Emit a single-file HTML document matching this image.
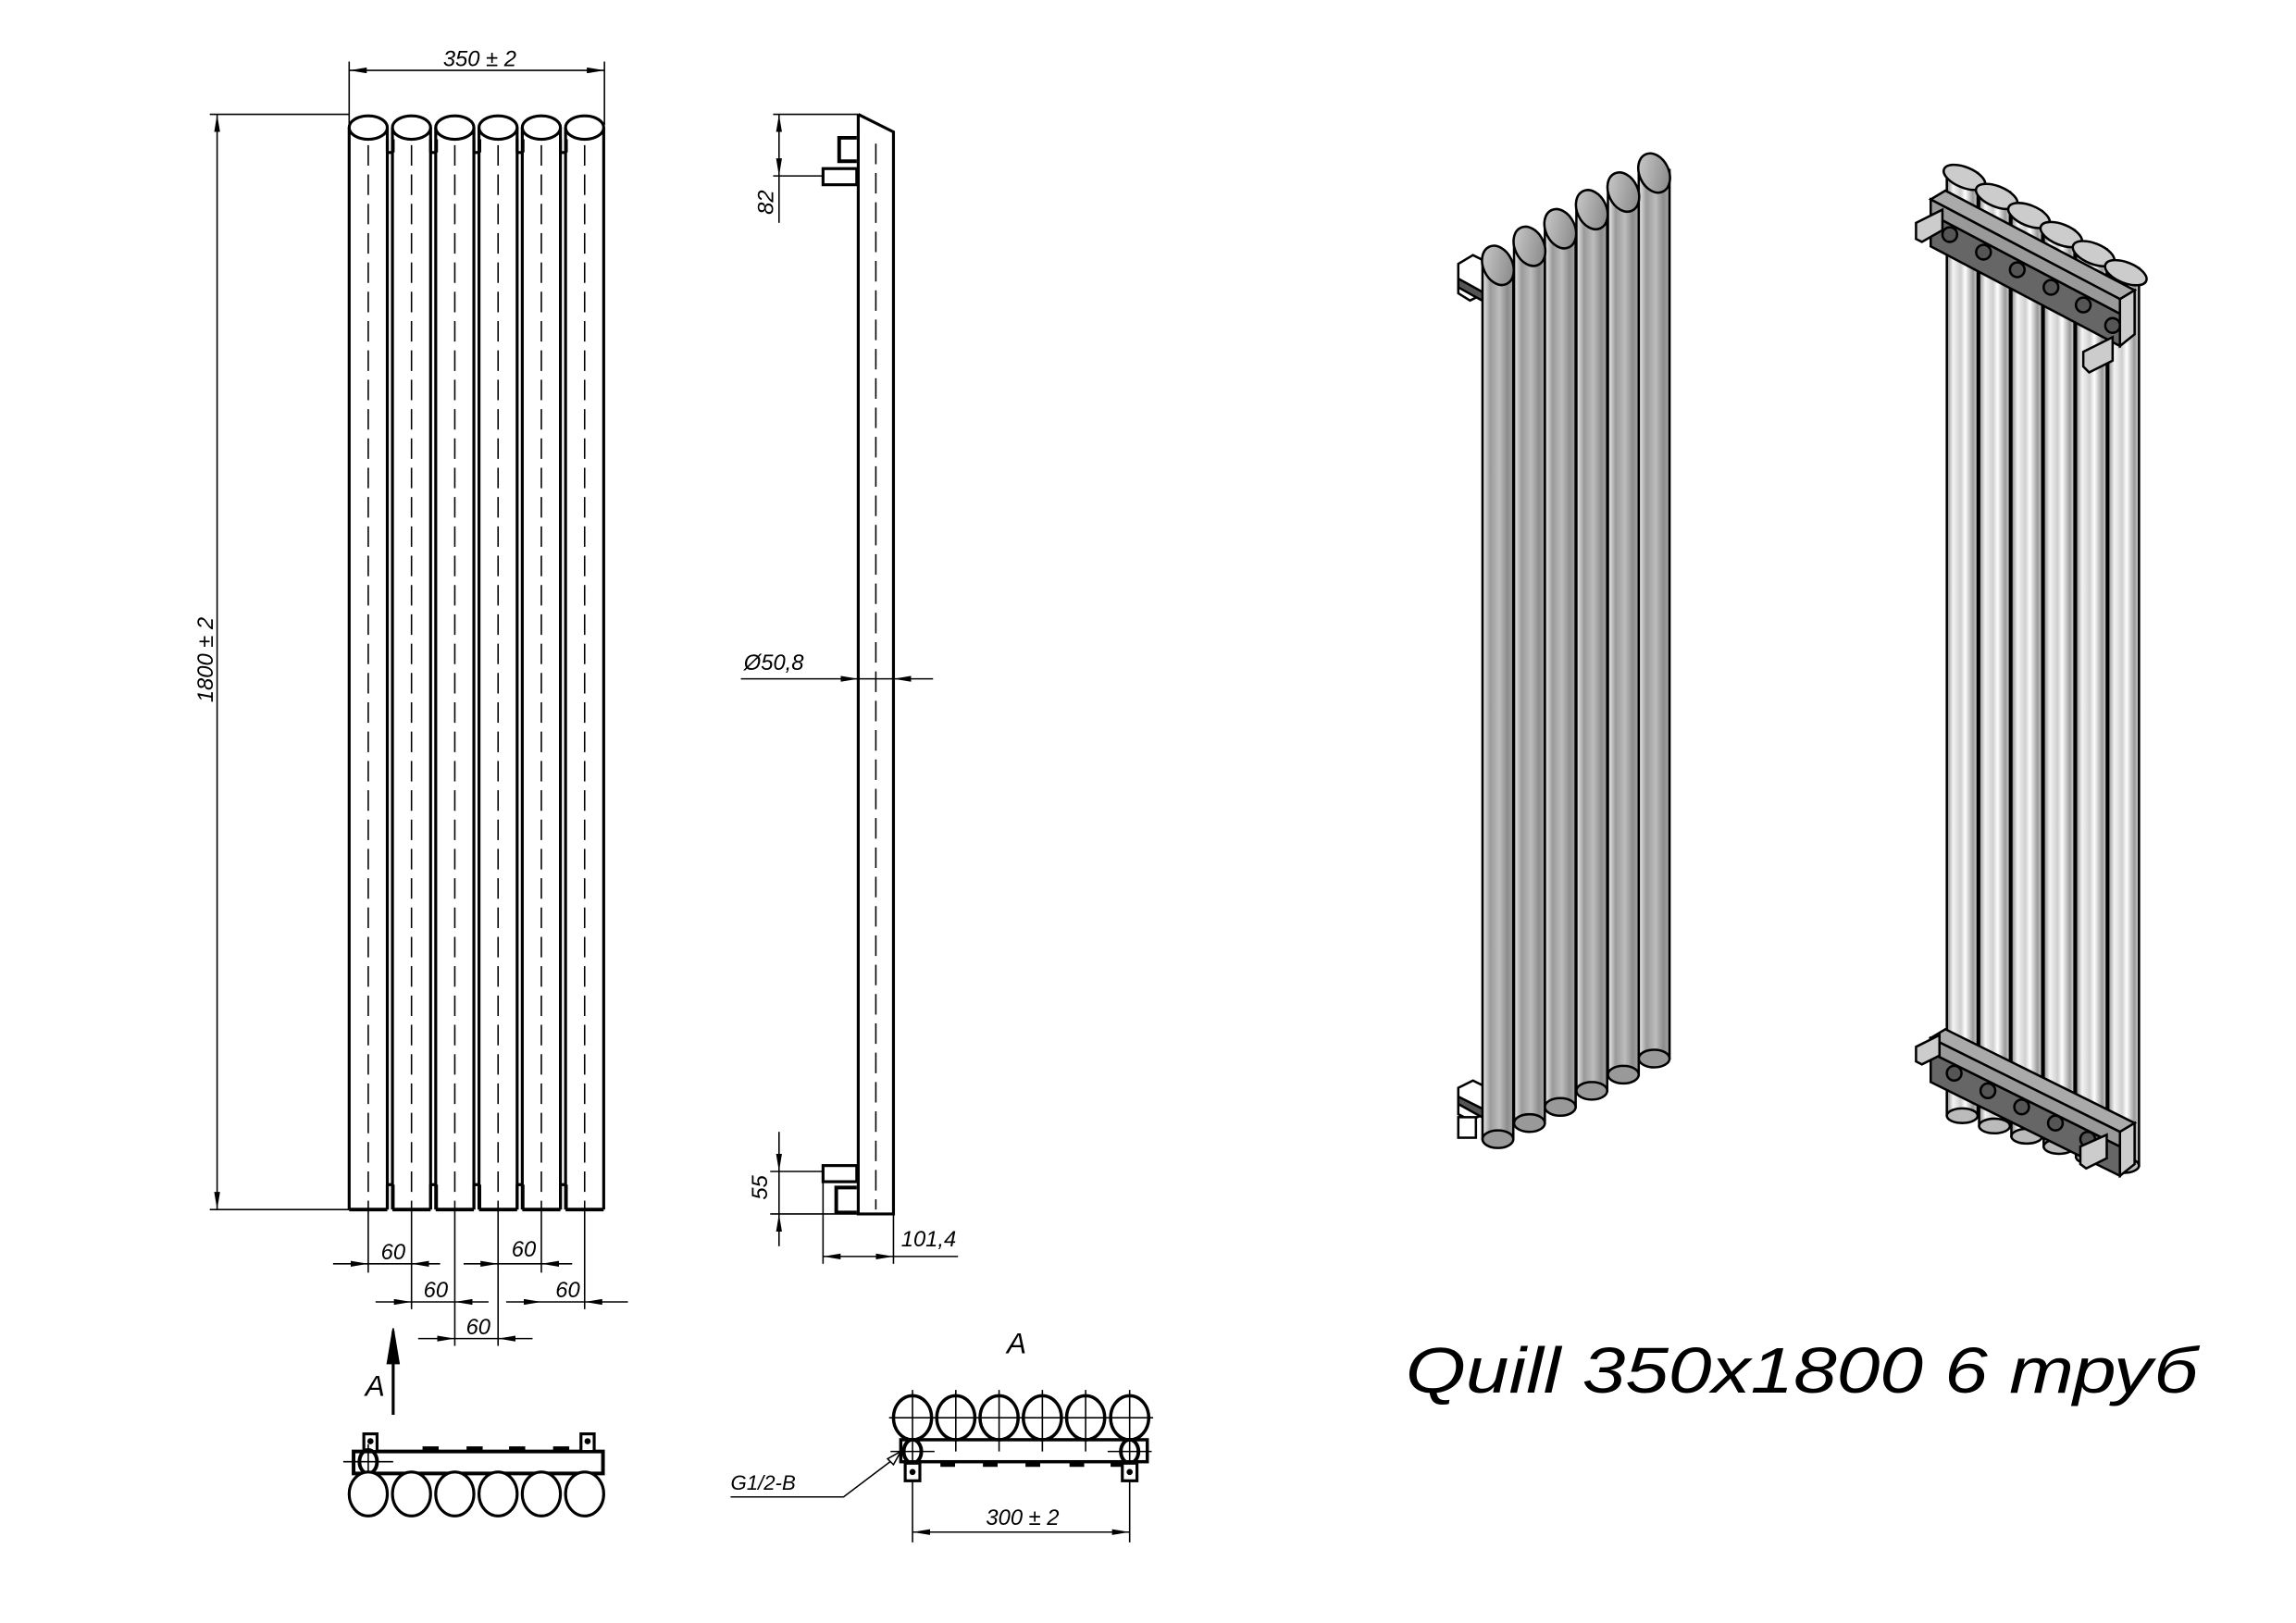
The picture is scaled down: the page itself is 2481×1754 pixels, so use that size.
<!DOCTYPE html>
<html><head><meta charset="utf-8"><style>
html,body{margin:0;padding:0;background:#fff;}
svg{display:block;}
text{font-family:"Liberation Sans","DejaVu Sans",sans-serif;font-style:italic;fill:#000;}
</style></head><body>
<svg width="2481" height="1754" viewBox="0 0 1565 1107" preserveAspectRatio="none" xmlns="http://www.w3.org/2000/svg">
<defs>
<marker id="ar" viewBox="0 0 12 4" refX="12" refY="2" markerWidth="12" markerHeight="4" markerUnits="userSpaceOnUse" orient="auto-start-reverse"><path d="M0,0 L12,2 L0,4z" fill="#000"/></marker>
<linearGradient id="gl" x1="0" x2="1" y1="0" y2="0">
<stop offset="0" stop-color="#eee"/><stop offset="0.25" stop-color="#9a9a9a"/><stop offset="0.55" stop-color="#bdbdbd"/><stop offset="0.8" stop-color="#8d8d8d"/><stop offset="1" stop-color="#a5a5a5"/></linearGradient>
<linearGradient id="gr" x1="0" x2="1" y1="0" y2="0">
<stop offset="0" stop-color="#888"/><stop offset="0.2" stop-color="#f4f4f4"/><stop offset="0.45" stop-color="#cfcfcf"/><stop offset="0.6" stop-color="#fff"/><stop offset="0.85" stop-color="#999"/><stop offset="1" stop-color="#d8d8d8"/></linearGradient>
<linearGradient id="ge" x1="0" x2="1" y1="0" y2="1"><stop offset="0" stop-color="#d0d0d0"/><stop offset="1" stop-color="#808080"/></linearGradient>
<g id="ft" fill="none" stroke="#000">
<line x1="0" y1="87" x2="0" y2="825" stroke-width="2"/>
<line x1="26" y1="87" x2="26" y2="825" stroke-width="2"/>
<line x1="13" y1="79" x2="13" y2="825" stroke-width="1" stroke-dasharray="14,6"/>
<ellipse cx="13" cy="87" rx="13" ry="8" fill="#fff" stroke-width="2"/>
<line x1="0" y1="825" x2="26" y2="825" stroke-width="2.5"/>
</g>
</defs>

<!-- FRONT VIEW -->
<g>
<use href="#ft" x="238"/><use href="#ft" x="267.5"/><use href="#ft" x="297"/><use href="#ft" x="326.5"/><use href="#ft" x="356"/><use href="#ft" x="385.5"/>
<g stroke="#000" stroke-width="2">
<path d="M264,95V104M268,95V104M293.5,95V104M297.5,95V104M323,95V104M327,95V104M352.5,95V104M356.5,95V104M382,95V104M386,95V104"/>
<path d="M264,104H268M293.5,104H297.5M323,104H327M352.5,104H356.5M382,104H386"/>
<path d="M264,808V825M268,808V825M293.5,808V825M297.5,808V825M323,808V825M327,808V825M352.5,808V825M356.5,808V825M382,808V825M386,808V825"/>
<path d="M264,808H268M293.5,808H297.5M323,808H327M352.5,808H356.5M382,808H386"/>
</g>
<g stroke="#000" stroke-width="1" fill="none">
<line x1="238" y1="42" x2="238" y2="85"/><line x1="412" y1="42" x2="412" y2="85"/>
<line x1="238" y1="48" x2="412" y2="48" marker-start="url(#ar)" marker-end="url(#ar)"/>
<line x1="143" y1="78" x2="238" y2="78"/><line x1="143" y1="825" x2="238" y2="825"/>
<line x1="148" y1="78" x2="148" y2="825" marker-start="url(#ar)" marker-end="url(#ar)"/>
<path d="M251,825V868M280.5,825V893M310,825V918M339.5,825V918M369,825V868M398.5,825V893"/>
<line x1="227" y1="862" x2="251" y2="862" marker-end="url(#ar)"/><line x1="300" y1="862" x2="280.5" y2="862" marker-end="url(#ar)"/><line x1="251" y1="862" x2="280.5" y2="862"/>
<line x1="316" y1="862" x2="339.5" y2="862" marker-end="url(#ar)"/><line x1="390" y1="862" x2="369" y2="862" marker-end="url(#ar)"/><line x1="339.5" y1="862" x2="369" y2="862"/>
<line x1="256" y1="888" x2="280.5" y2="888" marker-end="url(#ar)"/><line x1="333" y1="888" x2="310" y2="888" marker-end="url(#ar)"/><line x1="280.5" y1="888" x2="310" y2="888"/>
<line x1="345" y1="888" x2="369" y2="888" marker-end="url(#ar)"/><line x1="428" y1="888" x2="398.5" y2="888" marker-end="url(#ar)"/><line x1="369" y1="888" x2="398.5" y2="888"/>
<line x1="285" y1="913" x2="310" y2="913" marker-end="url(#ar)"/><line x1="363" y1="913" x2="339.5" y2="913" marker-end="url(#ar)"/><line x1="310" y1="913" x2="339.5" y2="913"/>
</g>
<text x="327" y="45" font-size="15" text-anchor="middle">350 ± 2</text>
<text transform="translate(145,450) rotate(-90)" font-size="15" text-anchor="middle">1800 ± 2</text>
<g font-size="15" text-anchor="middle">
<text x="268" y="859">60</text><text x="357" y="857">60</text>
<text x="297" y="885">60</text><text x="387" y="885">60</text>
<text x="326" y="910">60</text>
</g>
</g>

<!-- SIDE VIEW -->
<g stroke="#000" fill="none">
<path d="M585,78V828H609V90L585,78" stroke-width="2"/>
<line x1="597" y1="98" x2="597" y2="825" stroke-width="1" stroke-dasharray="14,6"/>
<path d="M584,94H572V110H584" stroke-width="2.5"/>
<rect x="561" y="115" width="23" height="11" stroke-width="2"/>
<rect x="561" y="795" width="23" height="11" stroke-width="2"/>
<path d="M584,810H570V827H584" stroke-width="2.5"/>
<g stroke-width="1">
<line x1="527" y1="78" x2="585" y2="78"/><line x1="527" y1="120" x2="561" y2="120"/>
<line x1="531" y1="78" x2="531" y2="120" marker-start="url(#ar)" marker-end="url(#ar)"/>
<line x1="531" y1="120" x2="531" y2="152"/>
<line x1="525" y1="799" x2="561" y2="799"/><line x1="525" y1="828" x2="585" y2="828"/>
<line x1="531" y1="772" x2="531" y2="799" marker-end="url(#ar)"/>
<line x1="531" y1="850" x2="531" y2="828" marker-end="url(#ar)"/>
<line x1="531" y1="799" x2="531" y2="828"/>
<line x1="561" y1="806" x2="561" y2="862"/><line x1="609" y1="828" x2="609" y2="862"/>
<line x1="561" y1="857" x2="609" y2="857" marker-start="url(#ar)" marker-end="url(#ar)"/>
<line x1="609" y1="857" x2="653" y2="857"/>
<line x1="505" y1="463" x2="585" y2="463" marker-end="url(#ar)"/>
<line x1="636" y1="463" x2="609" y2="463" marker-end="url(#ar)"/>
<line x1="585" y1="463" x2="609" y2="463"/>
</g>
</g>
<text transform="translate(527,138) rotate(-90)" font-size="15" text-anchor="middle">82</text>
<text transform="translate(523,810) rotate(-90)" font-size="15" text-anchor="middle">55</text>
<text x="633" y="850" font-size="15" text-anchor="middle">101,4</text>
<text x="507" y="457" font-size="15">Ø50,8</text>

<!-- VIEW A left -->
<g stroke="#000" fill="none">
<line x1="268" y1="965" x2="268" y2="908" stroke-width="2"/>
<path d="M268,906 L264,930 L272,930Z" fill="#000"/>
<rect x="241" y="990" width="170" height="15" stroke-width="2.5"/>
<rect x="248" y="978" width="9" height="12" stroke-width="2" fill="#fff"/><rect x="396" y="978" width="9" height="12" stroke-width="2" fill="#fff"/>
<circle cx="252.5" cy="983" r="1.6" fill="#000"/><circle cx="400.5" cy="983" r="1.6" fill="#000"/>
<path d="M288,988H299M318,988H329M347,988H358M377,988H388" stroke-width="3"/>
<ellipse cx="251" cy="997" rx="6" ry="8" stroke-width="2.5"/>
<line x1="234" y1="997" x2="268" y2="997" stroke-width="1"/>
<line x1="251" y1="985" x2="251" y2="1030" stroke-width="1"/>
<g stroke-width="2" fill="#fff">
<ellipse cx="251" cy="1019" rx="13" ry="15"/><ellipse cx="280.5" cy="1019" rx="13" ry="15"/><ellipse cx="310" cy="1019" rx="13" ry="15"/><ellipse cx="339.5" cy="1019" rx="13" ry="15"/><ellipse cx="369" cy="1019" rx="13" ry="15"/><ellipse cx="398.5" cy="1019" rx="13" ry="15"/>
</g>
</g>
<text x="249" y="952" font-size="20">A</text>

<!-- VIEW A right -->
<g stroke="#000" fill="none">
<g stroke-width="1"><line x1="606" y1="967" x2="786" y2="967"/>
<path d="M622,948V1000M651.5,948V990M681,948V990M710.5,948V990M740,948V990M770,948V1000"/></g>
<g stroke-width="2.2"><ellipse cx="622" cy="967" rx="13" ry="15"/><ellipse cx="651.5" cy="967" rx="13" ry="15"/><ellipse cx="681" cy="967" rx="13" ry="15"/><ellipse cx="710.5" cy="967" rx="13" ry="15"/><ellipse cx="740" cy="967" rx="13" ry="15"/><ellipse cx="770" cy="967" rx="13" ry="15"/></g>
<rect x="614" y="982" width="168" height="15" stroke-width="2.2" fill="none"/>
<path d="M641,999H651M670,999H680M699,999H709M729,999H739M757,999H766" stroke-width="3"/>
<ellipse cx="622" cy="990" rx="6" ry="8" stroke-width="2.5"/><ellipse cx="770" cy="990" rx="6" ry="8" stroke-width="2.5"/>
<g stroke-width="1"><path d="M607,990H637M755,990H785"/></g>
<rect x="617" y="998" width="10" height="12" stroke-width="2" fill="#fff"/><rect x="765" y="998" width="10" height="12" stroke-width="2" fill="#fff"/>
<circle cx="622" cy="1004" r="1.6" fill="#000"/><circle cx="770" cy="1004" r="1.6" fill="#000"/>
<g stroke-width="1">
<line x1="622" y1="1010" x2="622" y2="1052"/><line x1="770" y1="1010" x2="770" y2="1052"/>
<line x1="622" y1="1045" x2="770" y2="1045" marker-start="url(#ar)" marker-end="url(#ar)"/>
<path d="M498,1021H575L612,993"/>
</g>
<path d="M614,990 L605,995 L609,999Z" fill="#fff" stroke-width="1"/>
</g>
<text x="693" y="923" font-size="20" text-anchor="middle">A</text>
<text x="697" y="1040" font-size="15" text-anchor="middle">300 ± 2</text>
<text x="498" y="1016" font-size="14">G1/2-B</text>

<!-- TITLE -->
<text x="958" y="950" font-size="44" textLength="540" lengthAdjust="spacingAndGlyphs">Quill 350x1800  6 труб</text>

<!-- ISO LEFT -->
<g stroke="#000" stroke-width="1.6">
<path d="M994,180 L1004,174 L1012,178 L1012,200 L1002,205 L994,200Z" fill="#fff"/>
<path d="M994,190 L1012,200 L1012,206 L994,196Z" fill="#555"/>
<path d="M994,742 L1004,737 L1012,741 L1012,760 L1002,764 L994,760Z" fill="#fff"/>
<path d="M994,748 L1012,757 L1012,763 L994,753Z" fill="#555"/>
<rect x="994" y="762" width="12" height="14" fill="#fff"/>
<g>
<rect x="1117" y="116" width="21" height="606" fill="url(#gl)"/><ellipse cx="1127.5" cy="722" rx="10.5" ry="6" fill="#999"/>
<ellipse cx="1127.5" cy="118" rx="10" ry="14" transform="rotate(-25 1127.5 118)" fill="url(#ge)"/>
<rect x="1096" y="129" width="21" height="604" fill="url(#gl)"/><ellipse cx="1106.5" cy="733" rx="10.5" ry="6" fill="#999"/>
<ellipse cx="1106.5" cy="131" rx="10" ry="14" transform="rotate(-25 1106.5 131)" fill="url(#ge)"/>
<rect x="1074.5" y="141" width="21" height="603" fill="url(#gl)"/><ellipse cx="1085" cy="744" rx="10.5" ry="6" fill="#999"/>
<ellipse cx="1085" cy="143" rx="10" ry="14" transform="rotate(-25 1085 143)" fill="url(#ge)"/>
<rect x="1053" y="154" width="21" height="601" fill="url(#gl)"/><ellipse cx="1063.5" cy="755" rx="10.5" ry="6" fill="#999"/>
<ellipse cx="1063.5" cy="156" rx="10" ry="14" transform="rotate(-25 1063.5 156)" fill="url(#ge)"/>
<rect x="1032" y="166" width="21" height="600" fill="url(#gl)"/><ellipse cx="1042.5" cy="766" rx="10.5" ry="6" fill="#999"/>
<ellipse cx="1042.5" cy="168" rx="10" ry="14" transform="rotate(-25 1042.5 168)" fill="url(#ge)"/>
<rect x="1010.5" y="179" width="21" height="598" fill="url(#gl)"/><ellipse cx="1021" cy="777" rx="10.5" ry="6" fill="#999"/>
<ellipse cx="1021" cy="181" rx="10" ry="14" transform="rotate(-25 1021 181)" fill="url(#ge)"/>
</g>
</g>

<!-- ISO RIGHT -->
<g stroke="#000" stroke-width="1.6">
<rect x="1327" y="118" width="21" height="643" fill="url(#gr)"/><ellipse cx="1337.5" cy="761" rx="10.5" ry="5" fill="#bbb"/>
<ellipse cx="1339" cy="121" rx="15" ry="7" transform="rotate(22 1339 121)" fill="#ccc"/>
<rect x="1349" y="131" width="21" height="637" fill="url(#gr)"/><ellipse cx="1359.5" cy="768" rx="10.5" ry="5" fill="#bbb"/>
<ellipse cx="1361" cy="134" rx="15" ry="7" transform="rotate(22 1361 134)" fill="#ccc"/>
<rect x="1371" y="144" width="21" height="631" fill="url(#gr)"/><ellipse cx="1381.5" cy="775" rx="10.5" ry="5" fill="#bbb"/>
<ellipse cx="1383" cy="147" rx="15" ry="7" transform="rotate(22 1383 147)" fill="#ccc"/>
<rect x="1393" y="157" width="21" height="625" fill="url(#gr)"/><ellipse cx="1403.5" cy="782" rx="10.5" ry="5" fill="#bbb"/>
<ellipse cx="1405" cy="160" rx="15" ry="7" transform="rotate(22 1405 160)" fill="#ccc"/>
<rect x="1415" y="170" width="21" height="619" fill="url(#gr)"/><ellipse cx="1425.5" cy="789" rx="10.5" ry="5" fill="#bbb"/>
<ellipse cx="1427" cy="173" rx="15" ry="7" transform="rotate(22 1427 173)" fill="#ccc"/>
<rect x="1437" y="183" width="21" height="612" fill="url(#gr)"/><ellipse cx="1447.5" cy="795" rx="10.5" ry="5" fill="#bbb"/>
<ellipse cx="1449" cy="186" rx="15" ry="7" transform="rotate(22 1449 186)" fill="#ccc"/>
<path d="M1316,146 L1445,214 L1445,236 L1316,168Z" fill="#666"/>
<path d="M1316,136 L1326,130 L1455,198 L1445,204Z" fill="#aaa"/>
<path d="M1316,136 L1445,204 L1445,214 L1316,146Z" fill="#999"/>
<g fill="#555"><circle cx="1329" cy="160" r="5"/><circle cx="1352" cy="172" r="5"/><circle cx="1375" cy="184" r="5"/><circle cx="1398" cy="196" r="5"/><circle cx="1420" cy="208" r="5"/><circle cx="1440" cy="222" r="5"/></g>
<path d="M1445,204 L1455,198 L1455,228 L1445,236Z" fill="#ccc"/>
<path d="M1306,152 L1324,143 L1324,157 L1310,165 L1306,163Z" fill="#ccc"/>
<path d="M1420,240 L1440,230 L1440,246 L1424,254 L1420,250Z" fill="#ccc"/>
<path d="M1316,718 L1445,782 L1445,802 L1316,738Z" fill="#666"/>
<path d="M1316,708 L1326,702 L1455,766 L1445,772Z" fill="#aaa"/>
<path d="M1316,708 L1445,772 L1445,782 L1316,718Z" fill="#999"/>
<g fill="#555"><circle cx="1332" cy="732" r="5"/><circle cx="1355" cy="744" r="5"/><circle cx="1378" cy="755" r="5"/><circle cx="1401" cy="766" r="5"/><circle cx="1423" cy="777" r="5"/></g>
<path d="M1445,772 L1455,766 L1455,794 L1445,802Z" fill="#ccc"/>
<path d="M1306,714 L1322,706 L1322,720 L1310,726 L1306,724Z" fill="#ccc"/>
<path d="M1418,782 L1436,774 L1436,790 L1422,797 L1418,794Z" fill="#ccc"/>
</g>
</svg>
</body></html>
